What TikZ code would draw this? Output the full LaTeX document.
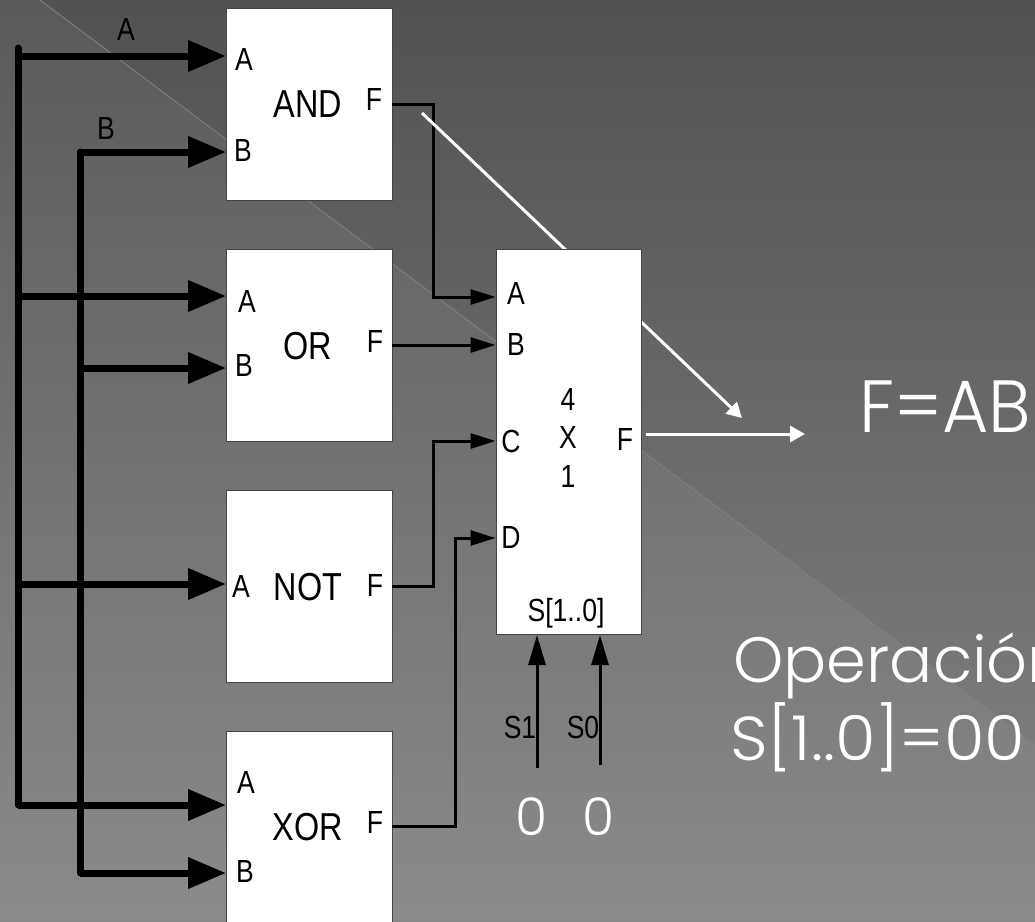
\documentclass[tikz,border=0pt]{standalone}
\usepackage{fontspec}
\usetikzlibrary{arrows.meta}
\setmainfont[FakeStretch=0.83]{Liberation Sans}
\newfontfamily\gothic{Poppins}[UprightFont=* Light]
\newfontfamily\gothicnarrow{Poppins}[UprightFont=* Light,FakeStretch=0.96]
\newfontfamily\gothicwide{Poppins}[UprightFont=* Light,FakeStretch=1.06]
\definecolor{boxedge}{HTML}{444444}
\definecolor{diagline}{HTML}{838383}
\tikzset{
  x=1pt,y=-1pt,
  blockbox/.style={draw=boxedge,fill=white,line width=1pt,inner sep=0,anchor=north west},
  lab/.style={inner sep=0,text=black,font=\fontsize{32}{32}\selectfont,text height=23pt,text depth=0pt,anchor=center},
  biglab/.style={inner sep=0,text=black,font=\fontsize{39}{39}\selectfont,text height=28pt,text depth=0pt,anchor=center},
  bus/.style={line width=7pt,draw=black,-{Triangle[length=38pt,width=30pt]}},
  busrail/.style={line width=7pt,draw=black,line cap=round},
  wire/.style={line width=3pt,draw=black,-{Triangle[length=25pt,width=15pt]}},
  selwire/.style={line width=3pt,draw=black,-{Triangle[length=30pt,width=17pt]}},
  whitewire/.style={line width=3pt,draw=white,-{Triangle[length=15pt,width=16pt]}},
  gtext/.style={inner sep=0,text=white,anchor=base west},
}
\begin{document}
\begin{tikzpicture}
\useasboundingbox (0,0) rectangle (1035,921);
\clip (0,0) rectangle (1035,921);
% background
\fill[top color=black!68,bottom color=black!48] (0,0) rectangle (1035,921);
\fill[white,opacity=.05] (0,0) -- (40,0) -- (1035,745) -- (1035,921) -- (0,921) -- cycle;
\draw[diagline,line width=.8pt] (40,0) -- (1035,745);
% blocks
\node[blockbox,minimum width=166pt,minimum height=192pt] (andb) at (226,8) {};
\node[blockbox,minimum width=166pt,minimum height=192pt] (orb) at (226,249) {};
\node[blockbox,minimum width=166pt,minimum height=192pt] (notb) at (226,490) {};
\node[blockbox,minimum width=166pt,minimum height=192pt] (xorb) at (226,731) {};
% bus coordinates
\coordinate (aTop) at (18,48);
\coordinate (aBot) at (18,805);
\coordinate (bTop) at (80,152);
\coordinate (bBot) at (80,873);
\coordinate (a1) at (18,56);
\coordinate (a2) at (18,296);
\coordinate (a3) at (18,584);
\coordinate (a4) at (18,805);
\coordinate (b2) at (80,368);
\draw[busrail] (aTop) -- (aBot);
\draw[busrail] (bTop) -- (bBot);
\draw[bus] (a1) -- (a1 -| andb.west);
\draw[bus] (bTop) -- (bTop -| andb.west);
\draw[bus] (a2) -- (a2 -| orb.west);
\draw[bus] (b2) -- (b2 -| orb.west);
\draw[bus] (a3) -- (a3 -| notb.west);
\draw[bus] (a4) -- (a4 -| xorb.west);
\draw[bus] (bBot) -- (bBot -| xorb.west);
% wires into the mux
\coordinate (andOut) at (392,104);
\coordinate (orOut) at (392,345);
\coordinate (notOut) at (392,586);
\coordinate (xorOut) at (392,826);
\coordinate (muxA) at (495.5,297);
\coordinate (muxB) at (495.5,345);
\coordinate (muxC) at (495.5,441);
\coordinate (muxD) at (495.5,538);
\draw[wire] (andOut) -- ++(41,0) |- (muxA);
\draw[wire] (orOut) -- (muxB);
\draw[wire] (notOut) -- ++(41,0) |- (muxC);
\draw[wire] (xorOut) -- ++(63,0) |- (muxD);
% white diagonal passes behind the mux
\coordinate (diagStart) at (422,113);
\coordinate (diagEnd) at (742,418);
\draw[whitewire] (diagStart) -- (diagEnd);
% mux
\node[blockbox,minimum width=145pt,minimum height=385pt] (mux) at (495.5,249) {};
\coordinate (sOne) at (537,768);
\coordinate (sZero) at (600,765);
\draw[selwire] (sOne) -- (sOne |- mux.south);
\draw[selwire] (sZero) -- (sZero |- mux.south);
\coordinate (fromOut) at (646,434);
\coordinate (toRes) at (805,434);
\draw[whitewire] (fromOut) -- (toRes);
% block labels
\node[lab] (l1) at (244,59) {A};
\node[lab] (l2) at (243,150) {B};
\node[biglab] (l3) at (308,103) {AND};
\node[lab] (l4) at (374,99) {F};
\node[lab] (l5) at (247,301) {A};
\node[lab] (l6) at (244,365) {B};
\node[biglab] (l7) at (308,345) {OR};
\node[lab] (l8) at (375,341) {F};
\node[lab] (l9) at (241,586) {A};
\node[biglab] (l10) at (308,586) {NOT};
\node[lab] (l11) at (375,585) {F};
\node[lab] (l12) at (246,782) {A};
\node[lab] (l13) at (245,871) {B};
\node[biglab] (l14) at (308,826) {XOR};
\node[lab] (l15) at (375,822) {F};
\node[lab] (m1) at (516,293) {A};
\node[lab] (m2) at (516,344) {B};
\node[lab] (m3) at (568,399) {4};
\node[lab] (m4) at (568,437) {X};
\node[lab] (m5) at (568,476) {1};
\node[lab] (m6) at (511,441) {C};
\node[lab] (m7) at (625,439) {F};
\node[lab] (m8) at (511,537) {D};
\node[lab] (m9) at (566,610) {S[1..0]};
\node[lab] (x1) at (126,29) {A};
\node[lab] (x2) at (106,128) {B};
\node[lab] (x3) at (520,727) {S1};
\node[lab] (x4) at (583,727) {S0};
% result text
\node[gtext,font=\gothicnarrow\fontsize{74}{74}\selectfont] (res) at (859,432) {F=AB};
\node[gtext,font=\gothic\fontsize{64}{64}\selectfont] (op) at (733,682) {Operación};
\node[gtext,font=\gothicwide\fontsize{62}{62}\selectfont] (sel) at (730,760) {S[1..0]=00};
\node[gtext,font=\gothic\fontsize{52}{52}\selectfont] (z1) at (515,835) {0};
\node[gtext,font=\gothic\fontsize{52}{52}\selectfont] (z0) at (582,835) {0};
\end{tikzpicture}
\end{document}
